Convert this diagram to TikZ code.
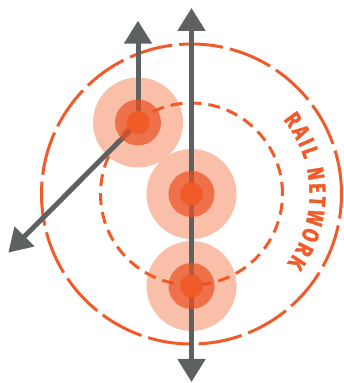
\documentclass[tikz,border=0pt]{standalone}
\usepackage{fontspec}
\newfontfamily\railfont[FakeStretch=0.8,FakeBold=1.6]{Fira Sans}
\usetikzlibrary{arrows.meta,decorations.text,calc}
\definecolor{railorange}{HTML}{F15A29}
\definecolor{halolight}{HTML}{F9BFA8}
\definecolor{halomid}{RGB}{235,80,35}
\definecolor{track}{HTML}{5E6162}
\begin{document}
\begin{tikzpicture}[x=1pt,y=1pt,
  halo/.style={fill=halolight},
  midhalo/.style={fill=halomid, fill opacity=0.7},
  stationdot/.style={fill=railorange},
  ring/.style={draw=railorange, line width=3pt},
  trackline/.style={draw=track, line width=5pt},
]
\useasboundingbox (0,0) rectangle (343,383);
% station centres and free arrow ends
\coordinate (A) at (138,260.5);
\coordinate (B) at (191.5,189);
\coordinate (C) at (191.5,97);
\coordinate (Ttop) at (191.5,375);
\coordinate (Tbot) at (191.5,1);
\coordinate (T1) at (138,362.3);
\coordinate (T2) at (8.3,130.3);
% light halos
\foreach \s in {A,B,C} \fill[halo] (\s) circle[radius=45];
% dashed rings
\draw[ring, dash pattern=on 44pt off 7pt] (B) circle[radius=150];
\draw[ring, dash pattern=on 12pt off 7pt] (B) circle[radius=91];
% tracks
\draw[trackline, {Triangle[length=23pt,width=27pt]}-{Triangle[length=23pt,width=27pt]}] (Tbot) -- (Ttop);
\draw[trackline, -{Triangle[length=23pt,width=27pt]}] (A) -- (T1);
\draw[trackline, -{Triangle[length=23pt,width=27pt]}] (A) -- (T2);
% middle halos and dots
\foreach \s in {A,B,C} \fill[midhalo] (\s) circle[radius=23];
\foreach \s in {A,B,C} \fill[stationdot] (\s) circle[radius=11.5];
% label along the outer ring
\path[decorate, decoration={text along path,
   text={|\railfont\bfseries\fontsize{23}{23}\selectfont\color{railorange}|RAIL NETWORK},
   text align={fit to path}}]
  ($(B)+(39:118)$) arc[start angle=39, end angle=-36, radius=118];
\end{tikzpicture}
\end{document}
